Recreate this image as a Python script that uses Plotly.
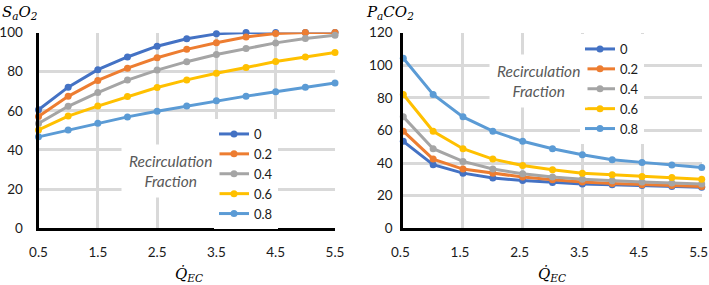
import plotly.graph_objects as go

q_ec = [0.5, 1.0, 1.5, 2.0, 2.5, 3.0, 3.5, 4.0, 4.5, 5.0, 5.5]
fractions = ["0", "0.2", "0.4", "0.6", "0.8"]
colors = ["#4472C4", "#ED7D31", "#A5A5A5", "#FFC000", "#5B9BD5"]

sao2_0 = [60.5, 72.1, 81.0, 87.5, 93.0, 96.8, 99.3, 100.0, 100.0, 100.0, 100.0]
sao2_02 = [57.1, 67.4, 75.5, 81.8, 87.1, 91.4, 94.8, 97.7, 99.5, 100.0, 100.0]
sao2_04 = [53.5, 62.3, 69.3, 75.7, 80.8, 85.1, 88.8, 91.8, 94.7, 96.9, 98.6]
sao2_06 = [50.2, 57.3, 62.4, 67.3, 71.9, 75.8, 79.2, 82.1, 85.2, 87.5, 89.8]
sao2_08 = [46.7, 50.2, 53.6, 56.9, 59.8, 62.4, 65.1, 67.5, 69.7, 72.0, 74.2]

paco2_0 = [53.3, 39.0, 33.8, 30.8, 29.3, 28.1, 27.1, 26.7, 26.2, 25.6, 25.2]
paco2_02 = [59.5, 42.4, 36.3, 33.8, 31.4, 29.7, 28.3, 27.5, 26.7, 26.2, 25.6]
paco2_04 = [68.3, 48.8, 41.0, 36.3, 33.4, 31.4, 30.1, 29.1, 28.3, 27.7, 27.1]
paco2_06 = [82.0, 59.5, 48.8, 42.4, 38.5, 35.9, 33.8, 32.8, 31.8, 31.2, 30.1]
paco2_08 = [104.2, 82.0, 68.3, 59.5, 53.3, 48.8, 45.1, 42.0, 40.4, 38.8, 37.3]

sao2 = [sao2_0, sao2_02, sao2_04, sao2_06, sao2_08]
paco2 = [paco2_0, paco2_02, paco2_04, paco2_06, paco2_08]

x_ticks = [0.5, 1.5, 2.5, 3.5, 4.5, 5.5]
x_ticklabels = ["0.5", "1.5", "2.5", "3.5", "4.5", "5.5"]

FONT = "Lato, 'Open Sans', sans-serif"
fig = go.Figure()

for name, col, ys in zip(fractions, colors, sao2):
    fig.add_trace(go.Scatter(x=q_ec, y=ys, name=name, mode="lines+markers",
                             line=dict(color=col, width=3), marker=dict(color=col, size=7),
                             xaxis="x", yaxis="y", legend="legend", cliponaxis=False))
for name, col, ys in zip(fractions, colors, paco2):
    fig.add_trace(go.Scatter(x=q_ec, y=ys, name=name, mode="lines+markers",
                             line=dict(color=col, width=3), marker=dict(color=col, size=7),
                             xaxis="x2", yaxis="y2", legend="legend2", cliponaxis=False))

H = 285.0
W = 709.0
ydom = [(H - 228.3) / H, (H - 32.5) / H]

def xaxis_cfg(shift):
    return dict(range=[0.5, 5.5], tickvals=x_ticks, ticktext=x_ticklabels,
                showgrid=True, gridcolor="#D9D9D9", gridwidth=3,
                showline=True, linecolor="black", linewidth=3, zeroline=False,
                ticks="", ticklabelstandoff=9, ticklabelshift=shift, automargin=False,
                tickfont=dict(family=FONT, size=13.5, color="#1a1a1a"))

ycommon = dict(showgrid=True, gridcolor="#D9D9D9", gridwidth=3,
               showline=True, linecolor="black", linewidth=3, zeroline=False,
               ticks="", automargin=False,
               tickfont=dict(family=FONT, size=13.5, color="#1a1a1a"))

legend_common = dict(bgcolor="white", font=dict(family=FONT, size=13, color="#1a1a1a"),
                     xanchor="left", yanchor="top", itemwidth=30, tracegroupgap=0,
                     borderwidth=0)

fig.update_layout(
    width=709, height=285,
    margin=dict(l=0, r=0, t=0, b=0, autoexpand=False),
    paper_bgcolor="white", plot_bgcolor="white",
    showlegend=True,
    xaxis=dict(domain=[38.5 / W, 335 / W], anchor="y", **xaxis_cfg(0)),
    yaxis=dict(domain=ydom, anchor="x", range=[0, 100], tickvals=[0, 20, 40, 60, 80, 100],
               ticklabelstandoff=10, **ycommon),
    xaxis2=dict(domain=[403.3 / W, 701.7 / W], anchor="y2", **xaxis_cfg(-3)),
    yaxis2=dict(domain=ydom, anchor="x2", range=[0, 120], tickvals=[0, 20, 40, 60, 80, 100, 120],
                ticklabelstandoff=5, **ycommon),
    legend=dict(x=214 / W, y=1 - 119 / H, **legend_common),
    legend2=dict(x=580 / W, y=1 - 34 / H, **legend_common),
    annotations=[
        dict(text="<i>S<sub>a</sub>O<sub>2</sub></i>", x=0, y=1 - 1 / H, xref="paper", yref="paper",
             xanchor="left", yanchor="top", showarrow=False,
             font=dict(family="'DejaVu Serif', serif", size=15, color="black")),
        dict(text="<i>P<sub>a</sub>CO<sub>2</sub></i>", x=364 / W, y=1 - 1 / H, xref="paper", yref="paper",
             xanchor="left", yanchor="top", showarrow=False,
             font=dict(family="'DejaVu Serif', serif", size=15, color="black")),
        dict(text="<i>Q\u0307<sub>EC</sub></i>", x=189 / W, y=1 - 274 / H, xref="paper", yref="paper",
             xanchor="center", yanchor="middle", showarrow=False,
             font=dict(family="'DejaVu Serif', serif", size=15, color="black")),
        dict(text="<i>Q\u0307<sub>EC</sub></i>", x=552 / W, y=1 - 274 / H, xref="paper", yref="paper",
             xanchor="center", yanchor="middle", showarrow=False,
             font=dict(family="'DejaVu Serif', serif", size=15, color="black")),
        dict(text="<i>Recirculation<br>Fraction</i>", x=170 / W, y=1 - 171 / H, xref="paper", yref="paper",
             xanchor="center", yanchor="middle", showarrow=False, bgcolor="white", borderpad=7,
             font=dict(family=FONT, size=15.5, color="#595959")),
        dict(text="<i>Recirculation<br>Fraction</i>", x=538 / W, y=1 - 81 / H, xref="paper", yref="paper",
             xanchor="center", yanchor="middle", showarrow=False, bgcolor="white", borderpad=7,
             font=dict(family=FONT, size=15.5, color="#595959")),
    ],
)

fig.write_html("out.html", config={"displayModeBar": False},
               post_script="document.body.style.margin='0px';document.body.style.padding='0px';")
